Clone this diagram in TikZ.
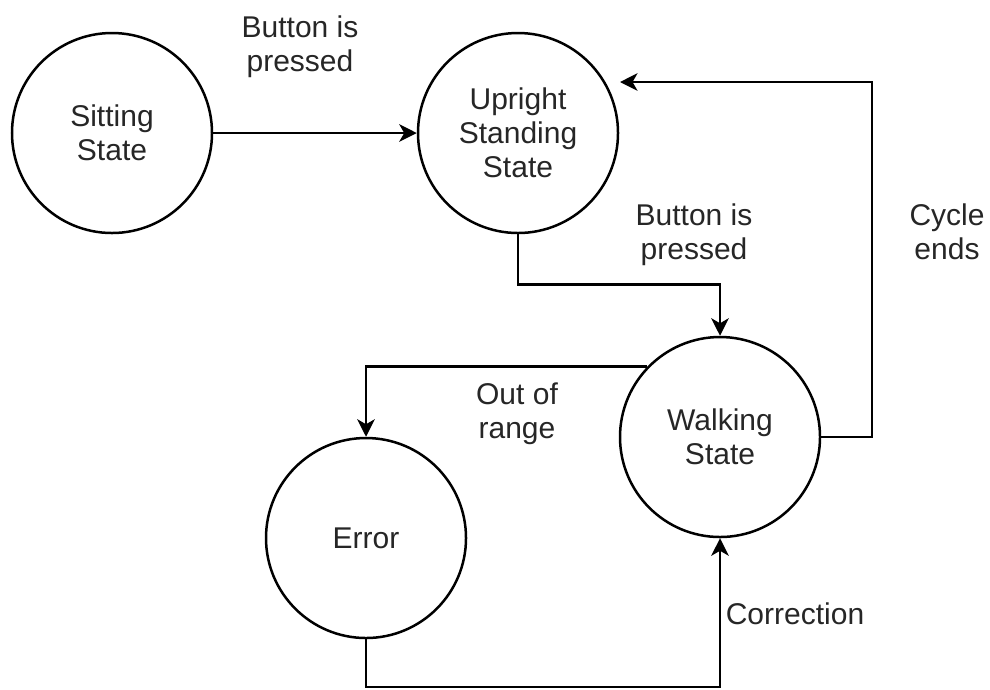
\documentclass[tikz,border=0pt]{standalone}
\usepackage{fontspec}
\setmainfont{Liberation Sans}
\usetikzlibrary{arrows.meta,positioning}

\tikzset{
 state/.style={circle, draw, line width=1pt, minimum size=80pt, inner sep=0pt, align=center, text=black!85, font=\fontsize{12}{13.6}\selectfont},
 lbl/.style={align=center, text=black!85, font=\fontsize{12}{13.6}\selectfont},
 conn/.style={line width=1pt, -{Stealth[length=7pt,width=7pt,inset=2pt]}}
}

\begin{document}
\begin{tikzpicture}[x=0.4pt,y=-0.4pt]
 \useasboundingbox (0,0) rectangle (990,689);
 % states
 \node[state] (sit) at (112,133) {Sitting\\State};
 \node[state] (up) at (518,133) {Upright\\Standing\\State};
 \node[state] (walk) at (720,437) {Walking\\State};
 \node[state] (err) at (366,538) {Error};

 % labels
 \node[lbl] (l0) at (300,47) {Button is\\pressed};
 \node[lbl] (l1) at (694,235) {Button is\\pressed};
 \node[lbl] (l2) at (947,232) {Cycle\\ends};
 \node[lbl] (l3) at (517,414) {Out of\\range};
 \node[lbl] (l4) at (795,614) {Correction};

 % loose ends
 \coordinate (upin) at (620,82);
 \coordinate (cyc) at (872,437);
 \coordinate (low) at (366,687);

 % connectors
 \draw[conn] (sit) -- (up);
 \draw[conn] (up.south) -- ++(0,50) -| (walk.north);
 \draw[conn] (walk.136.7) -| (err.north);
 \draw[conn] (walk.east) -- (cyc) |- (upin);
 \draw[conn] (err.south) -- (low) -| (walk.south);
\end{tikzpicture}
\end{document}
